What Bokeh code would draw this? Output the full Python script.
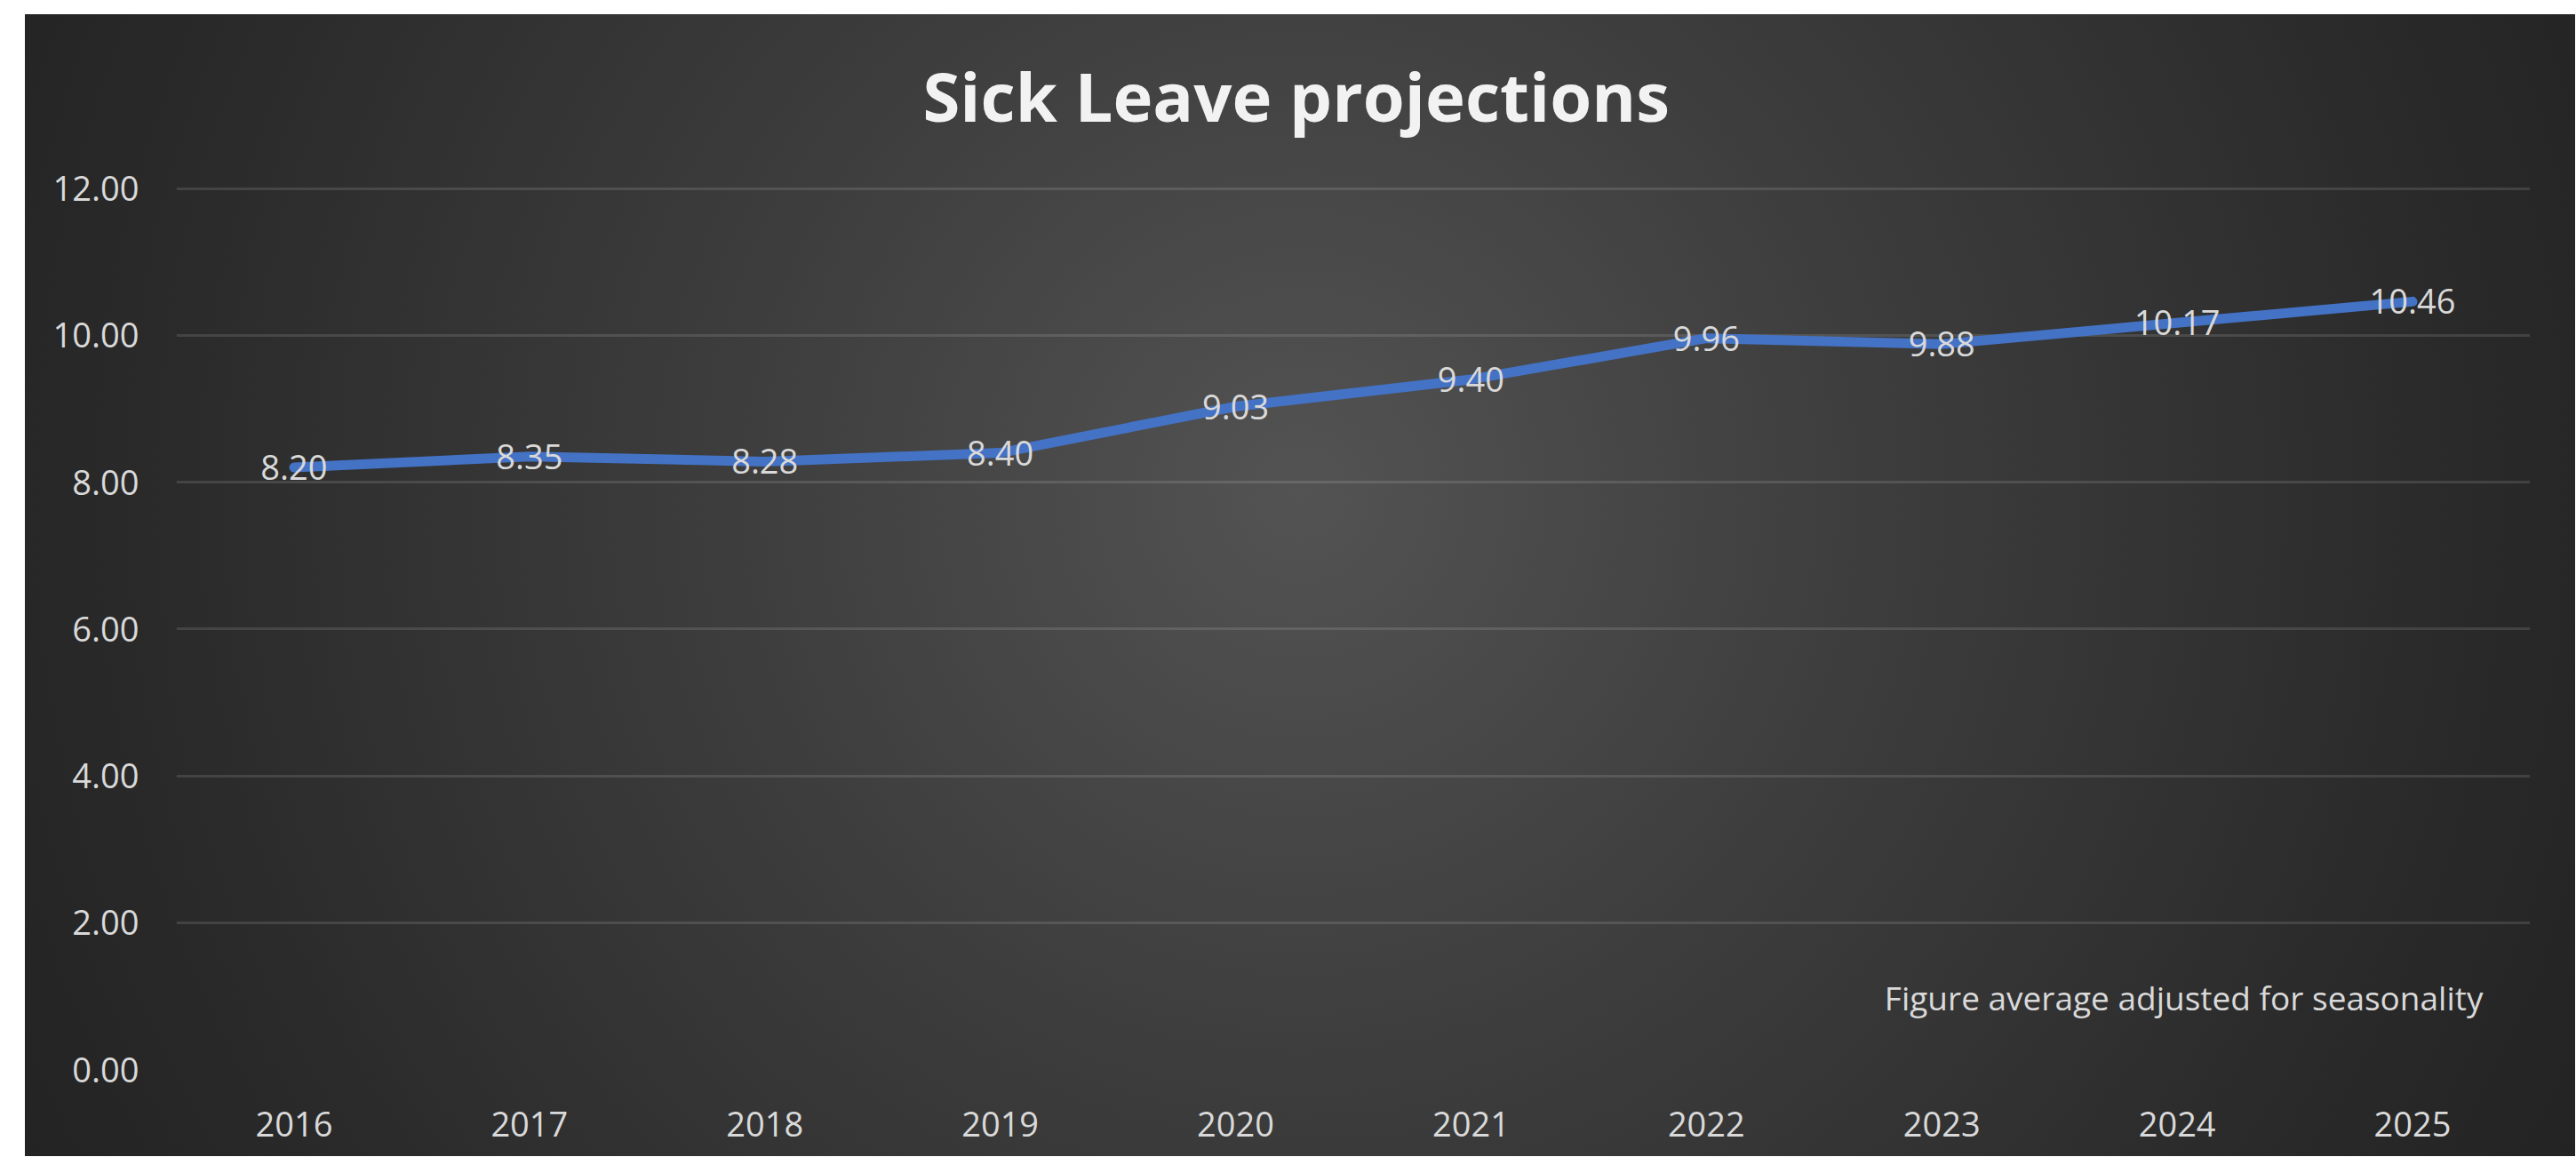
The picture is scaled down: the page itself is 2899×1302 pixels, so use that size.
from bokeh.plotting import figure
from bokeh.models import (Range1d, FixedTicker, NumeralTickFormatter, ColumnDataSource,
                          Label, LabelSet)
from bokeh.embed import file_html
from bokeh.resources import INLINE
from bokeh.core.properties import value

# ---- data ----
years = [2016, 2017, 2018, 2019, 2020, 2021, 2022, 2023, 2024, 2025]
sick_leave = [8.20, 8.35, 8.28, 8.40, 9.03, 9.40, 9.96, 9.88, 10.17, 10.46]
value_labels = [f"{v:.2f}" for v in sick_leave]
y_ticks = [0, 2, 4, 6, 8, 10, 12]
title_text = "Sick Leave projections"
note_text = "Figure average adjusted for seasonality"

FONT = "Open Sans"
LABEL_COLOR = "#d9d9d9"

src = ColumnDataSource(dict(year=years, val=sick_leave, lab=value_labels))

p = figure(width=2898, height=1301, output_backend="svg", toolbar_location=None,
           x_range=Range1d(2015.5, 2025.5), y_range=Range1d(0, 12.02),
           min_border_left=198, min_border_right=51, min_border_top=210,
           min_border_bottom=98, title=title_text)

p.styles = {"background": "radial-gradient(circle farthest-corner at 50% 42%, #535353 0%, "
                          "#3d3d3d 40%, #2a2a2a 80%, #232323 100%) 28px 16px / "
                          "calc(100% - 28px) calc(100% - 16px) no-repeat, #ffffff"}
p.border_fill_color = None
p.background_fill_color = None
p.outline_line_color = None

# title
p.title.text_font = FONT
p.title.text_font_size = "76px"
p.title.text_font_style = "bold"
p.title.text_color = "#f2f2f2"
p.title.align = "left"
p.title.offset = 840
p.title.standoff = 104

# axes
p.yaxis.ticker = FixedTicker(ticks=y_ticks)
p.yaxis.formatter = NumeralTickFormatter(format="0.00")
p.xaxis.ticker = FixedTicker(ticks=years)
p.xaxis.formatter = NumeralTickFormatter(format="0")
for ax in (p.xaxis, p.yaxis):
    ax.axis_line_color = None
    ax.major_tick_line_color = None
    ax.minor_tick_line_color = None
    ax.major_tick_out = 0
    ax.minor_tick_out = 0
    ax.major_label_text_font = FONT
    ax.major_label_text_font_size = "38px"
    ax.major_label_text_color = LABEL_COLOR
p.yaxis.major_label_standoff = 42
p.xaxis.major_label_standoff = 47

p.xgrid.grid_line_color = None
p.ygrid.grid_line_color = "#ffffff"
p.ygrid.grid_line_alpha = 0.12
p.ygrid.grid_line_width = 3

# line
p.line("year", "val", source=src, line_color="#4472C4", line_width=11, line_cap="round",
       line_join="round")

labels = LabelSet(x="year", y="val", text="lab", source=src, text_align="center",
                  text_baseline="middle", text_font=value(FONT), text_font_size="38px",
                  text_color=LABEL_COLOR)
p.add_layout(labels)

note = Label(x=2025.3, y=0.98, text=note_text, text_align="right", text_baseline="middle",
             text_font=FONT, text_font_size="37px", text_color=LABEL_COLOR)
p.add_layout(note)

open("out.html", "w").write(file_html(p, INLINE))
